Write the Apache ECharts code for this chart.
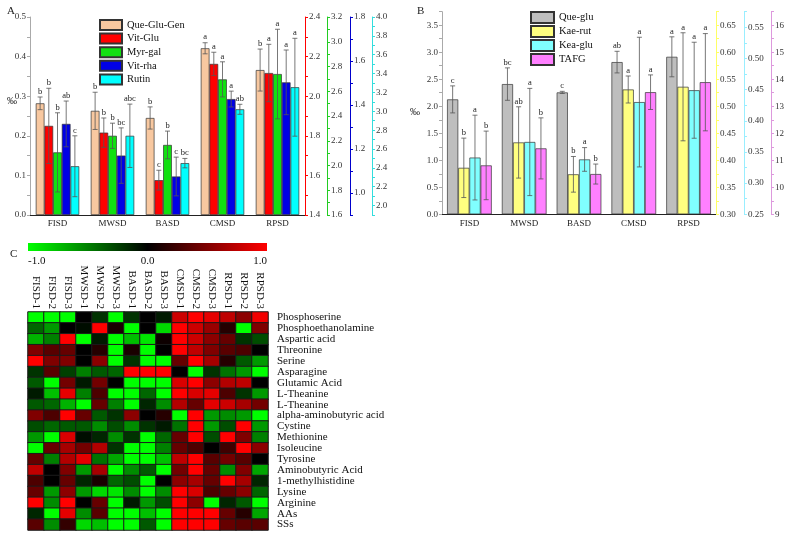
<!DOCTYPE html>
<html><head><meta charset="utf-8">
<script src="https://cdn.jsdelivr.net/npm/echarts@6/dist/echarts.min.js"></script>
<style>html,body{margin:0;padding:0;background:#fff}#c{width:787px;height:533px}</style>
</head><body><div id="c"></div>
<script>
const FONT = "'Liberation Serif','Times New Roman',serif";
const groups = ['FISD','MWSD','BASD','CMSD','RPSD'];

// ---- Panel A ----
const namesA = ['Que-Glu-Gen','Vit-Glu','Myr-gal','Vit-rha','Rutin'];
const queGluGen = [0.282,0.263,0.245,0.421,0.366];
const queGluGenErr = [0.016,0.047,0.028,0.014,0.053];
const vitGlu = [1.85,1.816,1.576,2.163,2.117];
const vitGluErr = [0.19,0.074,0.05,0.059,0.145];
const myrGal = [2.106,2.24,2.166,2.696,2.739];
const myrGalErr = [0.32,0.102,0.112,0.142,0.362];
const vitRha = [1.314,1.17,1.075,1.427,1.503];
const vitRhaErr = [0.104,0.126,0.088,0.036,0.147];
const rutin = [2.417,2.74,2.45,3.021,3.255];
const rutinErr = [0.323,0.336,0.05,0.053,0.519];
const lettersQueGluGen = ['b','b','b','a','b'];
const lettersVitGlu = ['b','b','c','a','a'];
const lettersMyrGal = ['b','b','b','a','a'];
const lettersVitRha = ['ab','bc','c','a','a'];
const lettersRutin = ['c','abc','bc','ab','a'];
const ticksALeft = [0.0,0.1,0.2,0.3,0.4,0.5];
const ticksARed = [1.4,1.6,1.8,2.0,2.2,2.4];
const ticksAGreen = [1.6,1.8,2.0,2.2,2.4,2.6,2.8,3.0,3.2];
const ticksABlue = [1.0,1.2,1.4,1.6,1.8];
const ticksACyan = [2.0,2.2,2.4,2.6,2.8,3.0,3.2,3.4,3.6,3.8,4.0];

// ---- Panel B ----
const namesB = ['Que-glu','Kae-rut','Kea-glu','TAFG'];
const queGlu = [2.127,2.41,2.256,2.817,2.915];
const queGluErr = [0.25,0.30,0.02,0.2,0.37];
const kaeRut = [0.386,0.433,0.374,0.531,0.536];
const kaeRutErr = [0.055,0.066,0.033,0.025,0.1];
const keaGlu = [0.341,0.366,0.338,0.430,0.449];
const keaGluErr = [0.068,0.086,0.019,0.104,0.077];
const tafg = [10.81,11.44,10.49,13.52,13.89];
const tafgErr = [1.27,1.13,0.37,0.64,1.8];
const lettersQueGlu = ['c','bc','c','ab','a'];
const lettersKaeRut = ['b','ab','b','a','a'];
const lettersKeaGlu = ['a','a','a','a','a'];
const lettersTafg = ['b','b','b','a','a'];
const ticksBLeft = [0.0,0.5,1.0,1.5,2.0,2.5,3.0,3.5];
const ticksBYellow = [0.30,0.35,0.40,0.45,0.50,0.55,0.60,0.65];
const ticksBCyan = [0.25,0.30,0.35,0.40,0.45,0.50,0.55];
const ticksBMagenta = [9,10,11,12,13,14,15,16];

// ---- Panel C ----
const colLabels = ['FISD-1','FISD-2','FISD-3','MWSD-1','MWSD-2','MWSD-3','BASD-1','BASD-2','BASD-3','CMSD-1','CMSD-2','CMSD-3','RPSD-1','RPSD-2','RPSD-3'];
const rowLabels = ['Phosphoserine','Phosphoethanolamine','Aspartic acid','Threonine','Serine','Asparagine','Glutamic Acid','L-Theanine','L-Theanine','alpha-aminobutyric acid','Cystine','Methionine','Isoleucine','Tyrosine','Aminobutyric Acid','1-methylhistidine','Lysine','Arginine','AAs','SSs'];
const heatValues = [
 [-1,-1,-1,0,-0.2,-1,-0.2,0,-0.1,0.8,1,0.9,0.75,0.55,0.95],
 [-0.4,-0.6,0,-0.05,1,0.1,-1,0,-0.85,1,0.8,0.6,0.15,-1,0.5],
 [-0.7,-0.5,1,-1,-0.1,-1,-0.75,-0.9,0.05,1,0.8,0.55,0.4,-0.2,-0.3],
 [0.5,0.35,0.4,0,0.15,-1,0.1,-1,0,1,0.75,0.5,0.35,0.3,0],
 [1,0.5,0.5,0,0.55,-1,-0.2,-1,-1,0.4,1,0.65,0.15,-0.35,-0.6],
 [-0.2,0.35,-0.25,-0.5,-0.35,-0.4,1,1,1,0,-1,-0.2,-0.45,-0.6,-1],
 [-0.35,-1,0.45,-0.1,0.45,0,-1,-1,-1,0.85,1,0.55,0.7,0.75,0],
 [-0.1,-0.75,0.9,-0.5,0.3,-1,-1,-0.4,-1,1,0.85,0.9,0.3,-0.2,-0.6],
 [-0.35,-0.4,-0.7,-1,0.4,-0.5,-1,-0.15,-0.55,0.7,0.4,0.9,0.8,0.65,0.45],
 [0.5,0.3,1,0.4,-0.35,-0.2,0.55,0,0.15,-1,1,-0.6,-0.55,-0.6,-1],
 [-0.3,-0.4,-0.35,-0.35,-0.55,-0.3,-0.55,-0.2,-0.1,-0.45,1,-0.6,-0.3,1,-0.6],
 [-0.6,-1,0.85,-0.05,-0.15,-0.55,-0.2,-1,-0.4,0.4,1,-0.3,1,0.5,-0.5],
 [-1,0.4,0.65,0.45,0.7,-0.2,-1,-1,-0.5,0.4,0.3,0,0.25,1,0.55],
 [0.4,-0.5,0.7,0.9,-0.45,-0.65,-1,-1,-0.75,0.75,1,0.35,0.45,0.35,0],
 [0.75,0,0.5,-0.6,0.65,-1,-0.55,-0.35,-1,0.45,1,0.4,-0.55,0.5,-0.65],
 [0.3,0,0.4,-0.15,0.1,-0.4,-0.3,-1,0,0.55,0.65,0.4,1,0.65,-0.15],
 [0.4,-0.6,0.55,-0.6,-0.85,-0.9,-0.55,-1,-0.55,1,0.85,0.3,0.4,0.55,-0.4],
 [1,-0.55,1,0,0.4,-1,-0.1,-0.6,-0.3,1,0.55,-1,-0.15,-0.35,-1],
 [-0.15,-1,0.9,-0.55,0.35,-1,-1,-0.75,-1,1,1,1,0.4,0.15,-0.65],
 [0.35,-0.55,0.2,-0.85,-0.75,-1,-1,-0.35,-1,1,1,1,0.4,0.35,0.35]
];
const colorbarRange = [-1, 1];
const heatColors = ['#00ff00','#000000','#ff0000'];

// ---- helpers ----
function halfTicks(labels, min, max){
  const step = labels[1]-labels[0], out=[];
  for (let v = labels[0]-step; v <= max+1e-9; v += step/2){
    if (v >= min-1e-9) out.push(Math.round(v*10000)/10000);
  }
  return out;
}
function vAxis(grid, min, max, labels, color, pos, offset, dec){
  return {type:'value', gridIndex:grid, min:min, max:max, position:pos, offset:offset, startValue:min,
    splitLine:{show:false},
    axisLine:{show:true, onZero:false, lineStyle:{color:color, width:1}},
    axisTick:{show:true, length:3, lineStyle:{color:color}, customValues:halfTicks(labels,min,max)},
    axisLabel:{fontFamily:FONT, fontSize:9, color:'#333', margin:4, customValues:labels,
      formatter:function(v){return Number(v).toFixed(dec);}}
  };
}
function barSeries(name, xi, yi, vals, color, gap){
  return {type:'bar', name:name, xAxisIndex:xi, yAxisIndex:yi, data:vals, barGap:'0%', barCategoryGap:gap,
    itemStyle:{color:color, borderColor:'#333', borderWidth:0.7}, emphasis:{disabled:true}};
}
function errSeries(name, xi, yi, vals, errs, letters, idx, n, gapFrac){
  return {type:'custom', name:name+' err', xAxisIndex:xi, yAxisIndex:yi, z:5, silent:true,
    data: vals.map(function(v,i){return [i, v, errs[i]];}),
    renderItem:function(params, api){
      const ci = api.value(0), v = api.value(1), e = api.value(2);
      const band = api.size([1,0])[0];
      const tot = band*(1-gapFrac), bw = tot/n;
      const cx = api.coord([ci, v])[0] - tot/2 + (idx+0.5)*bw;
      const yt = api.coord([ci, v+e])[1], yb = api.coord([ci, v-e])[1];
      const cw = 2.5;
      const ls = {stroke:'#555', lineWidth:0.8};
      return {type:'group', children:[
        {type:'line', shape:{x1:cx,y1:yt,x2:cx,y2:yb}, style:ls},
        {type:'line', shape:{x1:cx-cw,y1:yt,x2:cx+cw,y2:yt}, style:ls},
        {type:'line', shape:{x1:cx-cw,y1:yb,x2:cx+cw,y2:yb}, style:ls},
        {type:'text', x:cx, y:yt-1, style:{text:letters[params.dataIndex], fontFamily:FONT, fontSize:8.5, fill:'#222', align:'center', verticalAlign:'bottom'}}
      ]};
    }};
}

const gapA = 0.21, gapB = 0.185;
const colorsA = ['#f8c8a0','#ff0000','#11e011','#0000e6','#00ffff'];
const colorsB = ['#bebebe','#ffff80','#80ffff','#ff80ff'];
const valsA = [queGluGen, vitGlu, myrGal, vitRha, rutin];
const errsA = [queGluGenErr, vitGluErr, myrGalErr, vitRhaErr, rutinErr];
const letA = [lettersQueGluGen, lettersVitGlu, lettersMyrGal, lettersVitRha, lettersRutin];
const valsB = [queGlu, kaeRut, keaGlu, tafg];
const errsB = [queGluErr, kaeRutErr, keaGluErr, tafgErr];
const letB = [lettersQueGlu, lettersKaeRut, lettersKeaGlu, lettersTafg];

const series = [];
namesA.forEach(function(n,i){ series.push(barSeries(n, 0, i, valsA[i], colorsA[i], (gapA*100)+'%')); });
namesA.forEach(function(n,i){ series.push(errSeries(n, 0, i, valsA[i], errsA[i], letA[i], i, 5, gapA)); });
namesB.forEach(function(n,i){ series.push(barSeries(n, 1, 5+i, valsB[i], colorsB[i], (gapB*100)+'%')); });
namesB.forEach(function(n,i){ series.push(errSeries(n, 1, 5+i, valsB[i], errsB[i], letB[i], i, 4, gapB)); });
const heatData = [];
heatValues.forEach(function(row, r){ row.forEach(function(v, c){ heatData.push([c, r, v]); }); });
series.push({type:'heatmap', xAxisIndex:2, yAxisIndex:9, data:heatData,
  itemStyle:{borderColor:'#1a1a1a', borderWidth:1}, emphasis:{disabled:true}});
const heatIndex = series.length-1;
series.push({type:'custom', xAxisIndex:3, yAxisIndex:10, silent:true, data:[colorbarRange],
  renderItem:function(params, api){
    const a = api.coord([api.value(0), 0]), b = api.coord([api.value(1), 1]);
    return {type:'rect', shape:{x:a[0], y:b[1], width:b[0]-a[0], height:a[1]-b[1]},
      style:{fill:{type:'linear', x:0, y:0, x2:1, y2:0, colorStops:[
        {offset:0, color:heatColors[0]},{offset:0.5, color:heatColors[1]},{offset:1, color:heatColors[2]}]}}};
  }});

const catAxisStyle = {axisLine:{lineStyle:{color:'#222'}}, axisTick:{length:3, lineStyle:{color:'#222'}},
  axisLabel:{fontFamily:FONT, fontSize:9, color:'#222', margin:4}};

const option = {
  animation:false,
  textStyle:{fontFamily:FONT},
  title:[
    {text:'A', left:2, top:1, textStyle:{fontFamily:FONT, fontSize:11, fontWeight:'normal', color:'#222'}},
    {text:'B', left:412, top:1, textStyle:{fontFamily:FONT, fontSize:11, fontWeight:'normal', color:'#222'}},
    {text:'C', left:5, top:244, textStyle:{fontFamily:FONT, fontSize:11, fontWeight:'normal', color:'#222'}},
    {text:'‰', left:2, top:91, textStyle:{fontFamily:FONT, fontSize:10, fontWeight:'normal', color:'#222'}},
    {text:'‰', left:405, top:102, textStyle:{fontFamily:FONT, fontSize:10, fontWeight:'normal', color:'#222'}}
  ],
  legend:[
    {data:namesA, icon:'rect', orient:'vertical', left:99, top:19, itemWidth:22, itemHeight:10, itemGap:1.6, padding:0,
      textStyle:{fontFamily:FONT, fontSize:10.5, color:'#111', lineHeight:10}, selectedMode:false},
    {data:namesB, icon:'rect', orient:'vertical', left:530, top:11, itemWidth:23, itemHeight:11, itemGap:1, padding:0,
      textStyle:{fontFamily:FONT, fontSize:10.5, color:'#111', lineHeight:11}, selectedMode:false}
  ],
  grid:[
    {left:30, top:17, width:275, height:198},
    {left:442, top:11.7, width:276, height:202.6},
    {left:28, top:312, width:240, height:218},
    {left:28, top:243, width:239, height:8}
  ],
  xAxis:[
    Object.assign({type:'category', gridIndex:0, data:groups}, catAxisStyle),
    Object.assign({type:'category', gridIndex:1, data:groups}, catAxisStyle, {axisLabel:{fontFamily:FONT, fontSize:9, color:'#222', margin:5}}),
    {type:'category', gridIndex:2, data:colLabels, position:'top', axisLine:{show:false}, axisTick:{show:false},
      axisLabel:{rotate:90, fontFamily:FONT, fontSize:11, color:'#111', margin:3, interval:0}},
    {type:'value', gridIndex:3, min:-1, max:1, interval:1, position:'bottom', splitLine:{show:false},
      axisLine:{show:false}, axisTick:{show:false},
      axisLabel:{fontFamily:FONT, fontSize:11, color:'#111', margin:5, alignMinLabel:'left', alignMaxLabel:'right',
        formatter:function(v){return Number(v).toFixed(1);}}}
  ],
  yAxis:[
    vAxis(0, 0, 0.5, ticksALeft, '#aaaaaa', 'left', 0, 1),
    vAxis(0, 1.4, 2.4, ticksARed, '#ff0000', 'right', 0, 1),
    vAxis(0, 1.6, 3.2, ticksAGreen, '#22cc22', 'right', 22, 1),
    vAxis(0, 0.9, 1.8, ticksABlue, '#0000cc', 'right', 45, 1),
    vAxis(0, 1.9, 4.0, ticksACyan, '#33dddd', 'right', 67, 1),
    vAxis(1, 0, 3.75, ticksBLeft, '#aaaaaa', 'left', 0, 1),
    vAxis(1, 0.30, 0.675, ticksBYellow, '#ffff66', 'right', 0, 2),
    vAxis(1, 0.25, 0.575, ticksBCyan, '#99eeff', 'right', 28, 2),
    vAxis(1, 9, 16.5, ticksBMagenta, '#dd99dd', 'right', 55, 0),
    {type:'category', gridIndex:2, data:rowLabels, inverse:true, position:'right', axisLine:{show:false}, axisTick:{show:false},
      axisLabel:{fontFamily:FONT, fontSize:11, color:'#111', margin:9, interval:0}},
    {type:'value', gridIndex:3, min:0, max:1, show:false}
  ],
  visualMap:{type:'continuous', show:false, min:colorbarRange[0], max:colorbarRange[1], seriesIndex:heatIndex, dimension:2,
    inRange:{color:heatColors}},
  series:series
};
const chart = echarts.init(document.getElementById('c'));
chart.setOption(option);
</script></body></html>
